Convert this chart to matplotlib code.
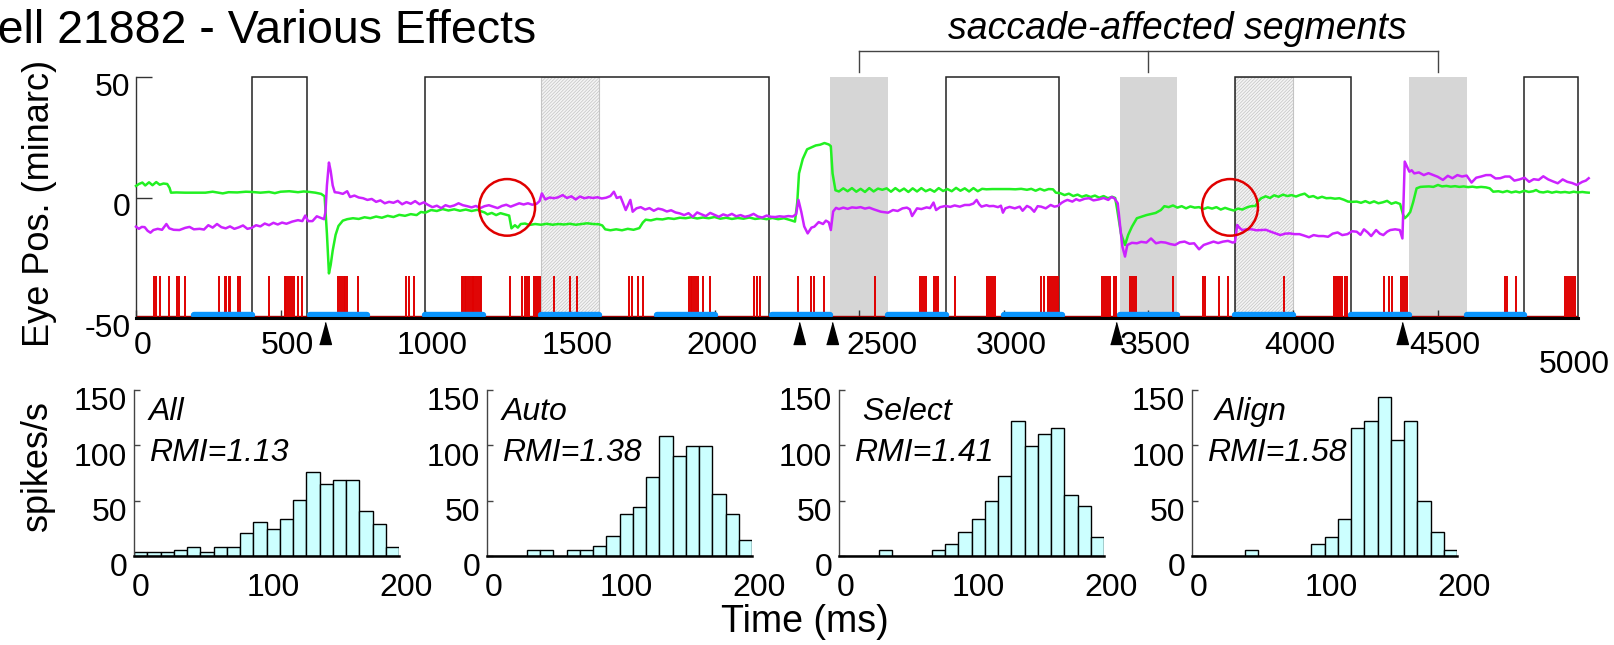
import matplotlib
matplotlib.use("Agg")
import matplotlib.pyplot as plt
from matplotlib.patches import Rectangle, Ellipse
from matplotlib.transforms import ScaledTranslation

plt.rcParams['font.family'] = ['Liberation Sans', 'DejaVu Sans']
plt.rcParams['axes.unicode_minus'] = False
plt.rcParams['hatch.linewidth'] = 0.5

# ---- top panel data (time in ms, eye position in minarc) ----
green_t = [0, 10, 22, 32, 45, 57, 70, 82, 95, 108, 116, 121,
           140, 170, 200, 240, 265, 280, 300, 320, 350, 380, 400, 430, 460, 480, 500, 530, 560, 580, 600, 620, 640, 652,
           660, 667, 673, 680, 690, 700, 715, 730, 750, 770, 790, 810, 830, 850, 870, 890, 910, 930, 950, 970, 985,
           1000, 1020, 1040, 1060, 1080, 1100, 1120, 1140, 1160, 1180, 1195,
           1205, 1215, 1230, 1245, 1260, 1275, 1290, 1298, 1310, 1320, 1330, 1345, 1360, 1380, 1400, 1420, 1440,
           1460, 1480, 1500, 1520, 1540, 1560, 1580, 1600, 1612, 1622, 1640, 1660, 1680, 1700, 1720, 1740, 1752,
           1762, 1780, 1800, 1820, 1840, 1860, 1880, 1900, 1920, 1940, 1960, 1980, 2000, 2020, 2040, 2060, 2080,
           2100, 2120, 2140, 2160, 2180, 2200, 2220, 2240, 2260, 2278,
           2286, 2292, 2305, 2320, 2335, 2350, 2365, 2380, 2395, 2402, 2408, 2418,
           2430, 2445, 2460, 2475, 2490, 2505, 2520, 2535, 2550, 2565, 2580, 2595, 2610, 2625, 2640, 2655, 2670,
           2685, 2700, 2715, 2730, 2745, 2760, 2775, 2790, 2805, 2820, 2835, 2850, 2865, 2880, 2895, 2910, 2925,
           2940, 2960, 2980, 3000, 3020, 3040, 3060, 3080, 3095, 3110, 3125, 3140, 3155, 3170, 3180, 3195, 3210,
           3225, 3240, 3255, 3270, 3285, 3300, 3315, 3330, 3345, 3360, 3375, 3385,
           3392, 3405, 3419, 3430, 3443, 3460, 3475, 3493, 3510, 3525, 3543, 3555, 3570, 3585, 3600, 3615, 3630,
           3645, 3660, 3675, 3690, 3705, 3720, 3735, 3750, 3765, 3780, 3795, 3810, 3825, 3840, 3855, 3870, 3880,
           3890, 3905, 3920, 3935, 3950, 3965, 3980, 3995, 4010, 4025, 4040, 4055, 4070, 4085, 4100, 4115, 4130,
           4145, 4160, 4175, 4190, 4205, 4220, 4235, 4250, 4265, 4280, 4295, 4310, 4325, 4340, 4355, 4370,
           4380, 4386, 4395, 4405, 4415, 4427, 4440, 4452, 4470, 4485, 4501, 4515, 4530, 4545, 4560, 4575, 4590,
           4605, 4620, 4635, 4650, 4667, 4680, 4692, 4710, 4725, 4740, 4755, 4770, 4783, 4800, 4815, 4830, 4840,
           4852, 4865, 4880, 4895, 4910, 4925, 4940, 4955, 4970, 4985, 5000, 5012, 5022]
green_y = [4.8, 5.6, 6.2, 5.0, 6.3, 5.1, 6.4, 5.3, 5.8, 5.6, 4.0, 2.0,
           2.1, 2.0, 2.0, 2.0, 2.4, 2.1, 1.7, 2.2, 2.1, 2.4, 2.3, 2.0, 2.3, 1.8, 2.4, 2.6, 2.2, 2.5, 2.3, 2.0, 1.5, 0.5,
           -15.0, -31.5, -28.0, -22.0, -15.5, -11.8, -9.6, -9.0, -8.6, -8.9, -8.2, -8.6, -7.9, -8.4, -7.6, -8.1,
           -7.2, -7.6, -6.9, -7.3, -6.0,
           -6.3, -5.2, -5.6, -4.8, -5.4, -4.9, -5.5, -5.0, -5.6, -5.1, -5.8,
           -6.2, -7.0, -6.4, -7.3, -6.5, -7.0, -7.5, -12.8, -11.5, -12.5, -11.0, -10.8, -11.4, -11.0, -11.3, -10.9,
           -11.3, -11.0, -11.2, -10.9, -11.3, -11.0, -10.7, -11.0, -11.1, -11.6, -13.2, -13.6, -13.2, -13.6, -13.0,
           -13.4, -12.7, -10.4,
           -9.2, -9.5, -8.9, -9.1, -8.6, -8.9, -8.4, -8.6, -8.2, -8.7, -8.3, -8.6, -8.1, -8.8, -8.4, -8.9, -8.5,
           -8.8, -8.3, -8.9, -8.6, -9.0, -8.5, -9.0, -8.6, -9.3, -10.0,
           -2.0, 10.0, 16.0, 20.0, 20.8, 21.6, 21.9, 22.6, 22.0, 21.3, 10.0, 3.0,
           2.5, 3.8, 2.6, 3.9, 2.4, 3.6, 2.3, 3.9, 2.5, 3.7, 3.2, 3.8, 2.4, 3.9, 2.6, 3.7, 2.3,
           3.8, 2.5, 3.9, 2.6, 3.4, 2.4, 3.9, 2.7, 3.5, 2.6, 4.0, 2.8, 3.8, 2.5, 3.9, 2.6, 3.6,
           3.4, 3.5, 3.5, 3.5, 3.5, 3.4, 3.6, 3.2, 3.6, 2.8, 3.6, 2.9, 3.5, 3.4, 2.0, 1.8, 1.0,
           1.6, 0.6, 1.2, 0.3, 0.9, 0.2, 0.8, -0.1, 0.6, -0.3, 0.3, -0.2,
           -5.0, -15.0, -19.7, -15.5, -12.1, -8.6, -8.0, -7.3, -6.8, -6.4, -5.2, -3.6, -4.0, -3.3, -4.2, -3.6, -4.5,
           -3.7, -4.2, -4.0, -4.8, -4.1, -4.6, -4.0, -5.0, -4.3, -4.9, -5.4, -4.6, -5.0, -4.1, -3.6, -3.5, -1.5,
           -0.3, 0.5, -0.2, 0.9, 0.3, 1.2, 0.6, 1.0, 0.4, 1.1, 1.6, 0.2, 0.6, -0.3, 0.3, -0.3, -0.2,
           -0.5, -0.3, -0.9, -1.7, -1.8, -1.7, -2.2, -1.5, -2.3, -1.6, -2.4, -2.0, -1.4, -2.6, -2.0, -2.7,
           -7.0, -8.6, -7.6, -6.0, -2.0, 3.8, 4.4, 4.5, 4.6, 4.4, 5.2, 4.6, 4.8, 4.5, 4.7, 4.4, 4.6,
           4.3, 4.5, 4.2, 4.4, 4.2, 3.8, 2.4, 2.6, 2.2, 2.7, 2.1, 2.5, 2.1, 2.8, 2.3, 2.6, 3.1,
           2.3, 2.1, 2.5, 2.0, 2.4, 2.1, 2.3, 2.0, 2.4, 2.1, 2.3, 2.1, 2.0]

magenta_t = [0, 10, 20, 30, 40, 50, 60, 75, 90, 105, 115, 130, 150, 170, 185, 200, 220, 235, 250, 265, 280,
             295, 310, 325, 340, 355, 370, 385, 400, 415, 430, 445, 460, 475, 490, 505, 520, 540, 560, 575,
             585, 595, 610, 625, 640, 650, 655, 660, 667, 673, 680, 687, 700, 715, 730, 740, 755, 770, 785,
             800, 815, 830, 845, 860, 875, 890, 905, 920, 935, 950, 965, 980, 995, 1010, 1025, 1040, 1055,
             1070, 1085, 1100, 1115, 1130, 1145, 1160, 1175, 1190, 1205, 1220, 1235, 1250, 1265, 1280, 1295,
             1310, 1325, 1340, 1355, 1370, 1385, 1395, 1403, 1415, 1430, 1445, 1460, 1475, 1490, 1505, 1520,
             1535, 1550, 1565, 1580, 1595, 1610, 1625, 1640, 1652, 1662, 1675, 1693, 1709, 1717, 1730, 1745,
             1760, 1775, 1790, 1805, 1820, 1835, 1850, 1865, 1880, 1895, 1910, 1925, 1940, 1955, 1970, 1985,
             2000, 2015, 2030, 2045, 2060, 2075, 2090, 2105, 2120, 2135, 2150, 2165, 2180, 2195, 2210, 2225,
             2240, 2255, 2270, 2282, 2290, 2300, 2310, 2322, 2335, 2345, 2360, 2375, 2385, 2395, 2402, 2410,
             2420, 2430,
             2445, 2460, 2475, 2490, 2505, 2520, 2535, 2550, 2575, 2600, 2617, 2633, 2650, 2665, 2675, 2683,
             2700, 2715, 2733, 2745, 2757, 2766, 2780, 2799, 2815, 2830, 2848, 2865, 2881, 2895, 2906, 2915,
             2923, 2940, 2950, 2964, 2980, 2990, 2997, 3005, 3020, 3038, 3055, 3065, 3080, 3092, 3105, 3117,
             3129, 3145, 3162, 3175, 3187, 3200, 3210, 3220, 3237, 3250, 3262, 3280, 3295, 3310, 3328, 3345,
             3361, 3372, 3382, 3394, 3404, 3410, 3419, 3427, 3443, 3460, 3475, 3493, 3509, 3526, 3543, 3559,
             3575, 3592, 3608, 3625, 3642, 3658, 3675, 3691, 3708, 3725, 3741, 3758, 3775, 3791, 3799, 3807,
             3815, 3824, 3840, 3857, 3873, 3890, 3906, 3923, 3940, 3956, 3972, 3989, 4005, 4022, 4038, 4055,
             4071, 4088, 4105, 4121, 4137, 4154, 4170, 4188, 4204, 4220, 4233, 4245, 4258, 4270, 4287, 4300,
             4312, 4325, 4336, 4353, 4369, 4378, 4386, 4395, 4402, 4410, 4419, 4435, 4452, 4468, 4485, 4500,
             4518, 4535, 4551, 4568, 4584, 4600, 4617, 4633, 4650, 4667, 4683, 4700, 4716, 4733, 4749, 4765,
             4783, 4800, 4816, 4832, 4849, 4865, 4882, 4898, 4915, 4932, 4948, 4965, 4981, 5000, 5012, 5022]
magenta_y = [-12.1, -13.0, -12.2, -12.3, -13.8, -14.6, -13.5, -13.0, -13.4, -11.0, -12.8, -13.4, -13.5,
             -12.6, -12.2, -13.2, -13.0, -13.3, -11.5, -12.5, -11.0, -12.3, -12.8, -12.0, -13.0, -12.4, -11.6,
             -13.0, -12.6, -11.5, -12.0, -10.8, -11.5, -10.5, -11.2, -10.4, -10.9, -10.0, -9.4, -9.8, -7.5,
             -9.8, -9.8, -7.8, -8.5, -9.0, -6.0, 5.0, 14.5, 11.0, 5.0, 2.2, 2.0, 1.5, 2.6, 0.2, 0.8, 0.0, -0.3,
             -1.0, -0.6, -1.8, -1.2, -2.4, -1.8, -2.2, -1.4, -2.8, -1.9, -2.6, -1.5, -2.8, -2.0, -3.1, -4.0,
             -3.4, -4.4, -3.2, -3.8, -3.3, -2.4, -3.2, -3.6, -4.1, -3.5, -4.4, -3.6, -3.2, -3.8, -4.4, -3.5,
             -3.0, -3.8, -3.1, -2.4, -2.9, -2.4, -3.0, -2.6, -1.5, 1.7, -0.8, 0.0, -0.3, 0.1, 1.0, -0.2, 0.5,
             -0.8, 0.4, -0.3, 0.1, -0.2, 0.1, -0.4, -0.1, 0.6, 2.4, -0.2, 0.3, -5.2, -1.0, -5.9, -4.5, -4.0,
             -5.0, -4.4, -5.5, -4.6, -5.0, -5.8, -5.3, -6.2, -6.6, -7.3, -6.5, -8.0, -6.2, -7.0, -7.7, -6.4,
             -7.2, -8.0, -7.0, -7.6, -6.8, -7.8, -7.3, -8.0, -7.6, -6.8, -7.9, -8.3, -7.5, -8.0, -8.1, -7.8,
             -8.0, -7.7, -7.9, -7.0, -1.0, -6.0, -12.0, -14.9, -12.5, -12.1, -10.2, -11.0, -9.6, -10.3, -13.5,
             -5.8, -4.3, -4.8,
             -4.2, -4.7, -4.1, -4.3, -4.0, -4.6, -4.2, -4.9, -5.9, -6.3, -5.2, -5.6, -4.5, -4.2, -4.9, -7.7,
             -4.5, -4.8, -4.1, -4.4, -2.1, -5.2, -4.0, -3.5, -3.9, -3.3, -3.8, -3.1, -3.1, -2.5, -1.0, -2.8,
             -3.8, -3.2, -3.6, -3.5, -4.0, -3.4, -6.3, -4.5, -3.9, -4.5, -3.8, -5.5, -3.5, -4.2, -5.9, -3.6,
             -3.8, -4.5, -3.1, -3.8, -3.5, -2.2, -1.5, -1.0, -1.7, -0.7, -1.3, -0.5, -0.3, -1.2, -0.8, -0.2,
             -1.0, 0.2, -0.3, -2.4, -14.0, -20.4, -24.5, -19.7, -18.8, -19.0, -18.4, -18.7, -17.0, -19.0, -18.5,
             -18.7, -19.3, -19.7, -18.6, -18.3, -19.2, -19.0, -21.5, -19.7, -19.0, -18.3, -18.9, -18.3, -18.0,
             -18.7, -18.5, -11.4, -12.6, -13.5, -13.2, -13.2, -13.6, -13.5, -13.4, -14.2, -14.9, -15.6, -15.0,
             -14.9, -15.2, -15.2, -15.8, -16.5, -15.6, -16.0, -16.0, -16.3, -15.0, -14.5, -15.6, -15.2, -14.0,
             -14.2, -15.5, -13.2, -14.5, -16.0, -13.5, -15.0, -15.6, -14.2, -13.5, -13.2, -13.5, -17.0, 14.9,
             12.5, 10.7, 11.3, 10.0, 10.4, 9.3, 10.1, 9.3, 8.6, 7.3, 9.0, 8.0, 9.3, 8.7, 9.1, 6.2, 8.2, 8.7,
             9.3, 9.3, 7.9, 8.0, 8.7, 8.7, 7.0, 7.5, 8.2, 6.5, 7.6, 7.3, 8.8, 7.5, 6.7, 5.9, 7.5, 6.5, 6.0,
             5.2, 6.5, 7.0, 8.0]

spike_times = [61, 68, 82, 113, 143, 150, 171, 288, 306, 312, 320, 325, 353, 361, 459, 514, 520, 527, 533,
               539, 546, 559, 575, 699, 705, 712, 718, 724, 729, 768, 935, 945, 961, 1127, 1131, 1137, 1142,
               1149, 1153, 1160, 1166, 1170, 1177, 1182, 1188, 1193, 1293, 1336, 1344, 1350, 1360, 1376, 1383,
               1389, 1396, 1444, 1500, 1524, 1705, 1714, 1734, 1754, 1911, 1917, 1923, 1930, 1936, 1943, 1959,
               1983, 2137, 2147, 2157, 2289, 2335, 2343, 2377, 2556, 2711, 2718, 2724, 2731, 2759, 2766, 2772,
               2830, 2943, 2949, 2956, 2962, 2969, 3129, 3138, 3154, 3161, 3167, 3174, 3181, 3187, 3341, 3348,
               3354, 3361, 3367, 3381, 3389, 3437, 3443, 3450, 3457, 3584, 3688, 3696, 3743, 3774, 3969, 4141,
               4148, 4154, 4161, 4168, 4181, 4188, 4315, 4333, 4341, 4374, 4381, 4388, 4394, 4731, 4738, 4771,
               4940, 4946, 4953, 4960, 4966, 4973]
saccade_times = [655, 2292, 2405, 3389, 4378]

blue_start = [200, 600, 1000, 1400, 1800, 2200, 2600, 3000, 3400, 3800, 4200, 4600]
blue_end = [400, 800, 1200, 1600, 2000, 2400, 2800, 3200, 3600, 4000, 4400, 4800]
box_start = [400, 1000, 2800, 3800, 4800]
box_end = [590, 2190, 3190, 4200, 4985]
gray_start = [2400, 3400, 4400]
gray_end = [2600, 3600, 4600]
hatch_start = [1400, 3800]
hatch_end = [1600, 4000]
circle_t = [1283, 3782]
circle_y = [-4.1, -4.1]
bracket_t = [2500, 3500, 4500]

top_ticks = [0, 500, 1000, 1500, 2000, 2500, 3000, 3500, 4000, 4500]

# ---- histograms (spikes/s per 10 ms bin) ----
bin_left = [0, 10, 20, 30, 40, 50, 60, 70, 80, 90, 100, 110, 120, 130, 140, 150, 160, 170, 180, 190]
hist_names = ["All", "Auto", " Select", " Align"]
hist_rmi = ["RMI=1.13", "RMI=1.38", "RMI=1.41", "RMI=1.58"]
rate_all = [4, 4, 4, 5.4, 8, 4, 8, 8, 21, 31, 24, 33, 51, 76, 65, 68.5, 68.5, 41, 29, 8]
rate_auto = [0, 0, 0, 5.4, 5.4, 0, 5.4, 5.4, 9.4, 18.4, 38, 44, 71, 108, 90, 99, 99, 56, 38, 14.5]
rate_select = [0, 0, 0, 5.4, 0, 0, 0, 5.4, 11, 22, 33, 50, 72, 122, 99, 110, 116, 55, 45, 17.5]
rate_align = [0, 0, 0, 0, 5.4, 0, 0, 0, 0, 11, 17.5, 33, 116, 122, 144, 105, 122, 50, 22, 5.4]
hist_rates = [rate_all, rate_auto, rate_select, rate_align]

W, H = 1614, 645
fig = plt.figure(figsize=(W / 100, H / 100), dpi=100)


def px_axes(left, top, right, bottom):
    return fig.add_axes([left / W, 1 - bottom / H, (right - left) / W, (bottom - top) / H])


def shift_labels(labels, dx, dy):
    for lab in labels:
        lab.set_transform(lab.get_transform() + ScaledTranslation(dx / 100, -dy / 100, fig.dpi_scale_trans))


# ---------------- top panel ----------------
ax = px_axes(136, 77, 1578, 318)
ax.set_xlim(0, 4985)
ax.set_ylim(-50, 50)

for a, b in zip(gray_start, gray_end):
    ax.add_patch(Rectangle((a, -50), b - a, 100, facecolor='#d6d6d6', edgecolor='none', zorder=1))
for a, b in zip(hatch_start, hatch_end):
    ax.add_patch(Rectangle((a, -50), b - a, 100, facecolor='#f4f4f4', edgecolor='#c4c4c4',
                           hatch='//////////', lw=0.8, zorder=1.1))
for a, b in zip(box_start, box_end):
    ax.add_patch(Rectangle((a, -50), b - a, 100, facecolor='none', edgecolor='#222222',
                           lw=1.1, zorder=1.5, clip_on=False))

ax.plot([0, 4985], [-49.3, -49.3], color='#a00000', lw=1, zorder=1.6)
ax.vlines(spike_times, -50, -32.6, colors='#e00000', lw=1.4, zorder=2)
for a, b in zip(blue_start, blue_end):
    ax.plot([a, b], [-48.8, -48.8], color='#0a96ff', lw=4.6, solid_capstyle='round', zorder=3)

ax.plot(green_t, green_y, color='#22f022', lw=1.8, zorder=4, clip_on=False)
ax.plot(magenta_t, magenta_y, color='#cc22ff', lw=1.8, zorder=4.1, clip_on=False)

for t, y in zip(circle_t, circle_y):
    ax.add_patch(Ellipse((t, y), 193, 23.5, fill=False, edgecolor='#e00000', lw=1.8, zorder=5))

tri = [(-0.27, -0.5), (0.27, -0.5), (0, 0.5)]
ax.plot(saccade_times, [-56.2] * len(saccade_times), linestyle='none', marker=tri, markersize=15.8,
        color='black', clip_on=False, zorder=5)

# bracket over the saccade-affected segments
ax.plot([bracket_t[0], bracket_t[-1]], [60.8, 60.8], color='#444444', lw=1, clip_on=False)
for t in bracket_t:
    ax.plot([t, t], [60.8, 52.1], color='#444444', lw=1, clip_on=False)

for s in ['top', 'right']:
    ax.spines[s].set_visible(False)
ax.spines['left'].set_linewidth(1)
ax.spines['left'].set_color('#333333')
ax.spines['bottom'].set_linewidth(2.2)
ax.spines['bottom'].set_zorder(6)

ax.set_xticks(top_ticks)
ax.set_xticklabels([str(t) for t in top_ticks])
ax.set_yticks([-50, 0, 50])
ax.set_yticklabels(['-50', '0', '50'])
ax.tick_params(axis='x', direction='in', length=5.8, width=1, color='#333333', pad=9.5, labelsize=23)
ax.tick_params(axis='y', direction='in', length=11.5, width=1, color='#333333', pad=4, labelsize=23)
shift_labels(ax.get_xticklabels(), 7, 0)
shift_labels([ax.get_xticklabels()[5]], 16, 0)
shift_labels(ax.get_yticklabels(), 0, 7)
ax.annotate('5000', xy=(4985, -50), xytext=(-3, -34), textcoords='offset points',
            ha='center', va='center', fontsize=23, annotation_clip=False)

# ---------------- histograms ----------------
hist_left = [134, 487, 839, 1192]
for i, left in enumerate(hist_left):
    hx = px_axes(left, 390, left + 265, 556)
    hx.bar(bin_left, hist_rates[i], width=10, align='edge', color='#ccffff', edgecolor='black', lw=1, zorder=2)
    hx.set_xlim(0, 200)
    hx.set_ylim(0, 150)
    for s in ['top', 'right']:
        hx.spines[s].set_visible(False)
    hx.spines['left'].set_linewidth(1)
    hx.spines['left'].set_color('#444444')
    hx.spines['bottom'].set_linewidth(1.8)
    hx.spines['bottom'].set_zorder(3)
    hx.set_xticks([0, 100, 200])
    hx.set_yticks([0, 50, 100, 150])
    hx.tick_params(axis='x', direction='in', length=0, pad=12.5, labelsize=23)
    hx.tick_params(axis='y', direction='in', length=4, width=1, color='#444444', pad=5, labelsize=23)
    shift_labels(hx.get_xticklabels(), 7, 0)
    shift_labels(hx.get_yticklabels(), 0, 9)
    hx.text(0.055, 0.82, hist_names[i], transform=hx.transAxes, fontsize=23, style='italic', va='baseline')
    hx.text(0.055, 0.57, hist_rmi[i], transform=hx.transAxes, fontsize=23, style='italic', va='baseline')

# ---------------- figure texts ----------------
fig.text(-36 / W, 1 - 43 / H, 'Cell 21882 - Various Effects', fontsize=33.5, ha='left', va='baseline')
fig.text(1177 / W, 1 - 39 / H, 'saccade-affected segments', fontsize=27, style='italic',
         ha='center', va='baseline')
fig.text(40 / W, 1 - 203 / H, 'Eye Pos. (minarc)', fontsize=26, rotation=90, ha='center', va='center')
fig.text(37 / W, 1 - 466 / H, 'spikes/s', fontsize=26, rotation=90, ha='center', va='center')
fig.text(805 / W, 1 - 622 / H, 'Time (ms)', fontsize=27, ha='center', va='center')

fig.savefig('out.png', dpi=100)
